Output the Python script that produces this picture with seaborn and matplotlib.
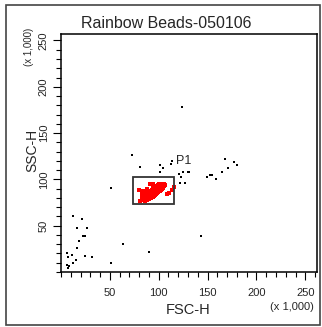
import matplotlib
matplotlib.use("Agg")
import matplotlib.pyplot as plt
import matplotlib.patches as mpatches
from matplotlib.ticker import MultipleLocator
import pandas as pd
import seaborn as sns

# --- data (FSC-H / SSC-H, x 1,000) ---
# scattered events outside the gate
other_fsc = [123.5, 72.4, 80.6, 101, 104, 101, 113, 114, 121, 124.5, 130, 131, 123, 121.4, 126.5,
             51, 149, 152, 155, 159, 165, 168, 171, 177, 180, 12, 22, 16.5, 26.5,
             22.5, 24.5, 18, 16, 6, 11, 7.5, 24.5, 31.5, 15, 12.5, 6, 8, 7,
             51, 63, 90, 143, 117]
other_ssc = [177.7, 126.6, 113.8, 116, 112.8, 108.5, 117, 120, 106, 108.5, 108.5, 108.5, 103, 95.7, 95.7,
             90.4, 103, 105, 105, 100, 108.5, 122, 112, 119, 116, 60.6, 57.4, 48, 47,
             39.4, 39.4, 33, 25.5, 20, 18, 16, 17, 16, 12.8, 9.6, 7.4, 6, 4.3,
             9.6, 29.8, 22, 39.4, 92.5]

# P1 gated population (dense core + stragglers)
p1_fsc = [85, 85,
          86, 86, 86,
          87, 87, 87,
          88, 88, 88, 88,
          89, 89, 89,
          90, 90, 90, 90,
          91, 91, 91, 91,
          92, 92, 92, 92,
          93, 93, 93, 93,
          94, 94, 94, 94, 94,
          95, 95, 95, 95,
          96, 96, 96, 96,
          97, 97, 97, 97,
          98, 98, 98, 98,
          99, 99, 99, 99,
          100, 100, 100, 100,
          101, 101, 101,
          102, 102, 102,
          103, 103, 103,
          104, 104,
          105, 105,
          106,
          79.6, 82.6, 80.6, 91, 94, 108, 111, 114, 116, 84, 88, 83]
p1_ssc = [78, 80,
          77, 79.5, 82,
          78, 80.5, 83,
          77.5, 80, 82.5, 85,
          79, 81.5, 84,
          78.5, 81, 83.5, 86,
          80, 82.5, 85, 87.5,
          79.5, 82, 84.5, 87,
          81, 83.5, 86, 88.5,
          81, 83.5, 86, 88.5, 91,
          82.5, 85, 87.5, 90,
          83, 85.5, 88, 90.5,
          84, 86.5, 89, 91.5,
          85, 87.5, 90, 92.5,
          86, 88.5, 91, 93.5,
          87, 89.5, 92, 94.5,
          88, 90.5, 93,
          89, 91.5, 94,
          90, 92.5, 95,
          91, 93.5,
          92.5, 95,
          94,
          89, 80, 76.6, 95, 95, 84, 85, 89, 91.5, 87, 90, 84]

gate_x = [73.5, 116]
gate_y = [73.4, 103]

title = "Rainbow Beads-050106"
tick_vals = [50, 100, 150, 200, 250]

other = pd.DataFrame({"FSC-H": other_fsc, "SSC-H": other_ssc})
p1 = pd.DataFrame({"FSC-H": p1_fsc, "SSC-H": p1_ssc})

sns.set_style("white")
plt.rcParams["font.family"] = ["Liberation Sans", "DejaVu Sans"]
narrow = ["Liberation Sans Narrow", "Liberation Sans", "DejaVu Sans"]

fig = plt.figure(figsize=(3.22, 3.27), dpi=100)
ax = fig.add_axes([61 / 322, 55 / 327, 256 / 322, 238 / 327])

sns.scatterplot(data=other, x="FSC-H", y="SSC-H", ax=ax, color="black",
                marker="s", s=1.5, linewidth=0)
sns.scatterplot(data=p1, x="FSC-H", y="SSC-H", ax=ax, color="red",
                marker="s", s=5, linewidth=0)

ax.add_patch(mpatches.Rectangle((gate_x[0], gate_y[0]), gate_x[1] - gate_x[0], gate_y[1] - gate_y[0],
                                fill=False, edgecolor="#333333", linewidth=1.3))
ax.text(117.3, 117, "P1", fontsize=9, ha="left", va="baseline")

ax.set_xlim(0, 262)
ax.set_ylim(0, 257)
ax.xaxis.set_minor_locator(MultipleLocator(10))
ax.yaxis.set_minor_locator(MultipleLocator(10))
ax.tick_params(which="major", direction="out", length=5.8, width=0.8, color="black",
               bottom=True, left=True, labelsize=8)
ax.tick_params(which="minor", direction="out", length=3.6, width=0.8, color="black",
               bottom=True, left=True)
ax.tick_params(axis="x", which="major", pad=6)
ax.tick_params(axis="y", which="major", pad=3)
ax.set_xticks(tick_vals)
ax.set_xticklabels([str(v) for v in tick_vals], family=narrow)
ax.set_yticks(tick_vals)
ax.set_yticklabels([str(v) for v in tick_vals], family=narrow, rotation=90, va="center")

for sp in ax.spines.values():
    sp.set_visible(True)
    sp.set_color("black")
    sp.set_linewidth(1.1)

ax.set_xlabel("")
ax.set_ylabel("")
fig.text(188 / 322, 1 - 310 / 327, "FSC-H", fontsize=10.5, ha="center", va="center")
fig.text(32 / 322, 1 - 150 / 327, "SSC-H", fontsize=10, ha="center", va="center", rotation=90)
fig.text(292 / 322, 1 - 307 / 327, "(x 1,000)", fontsize=8, ha="center", va="center")
fig.text(29.5 / 322, 1 - 47 / 327, "(x 1,000)", fontsize=7, ha="center", va="center",
         rotation=90, family=narrow)
fig.text(166 / 322, 1 - 24 / 327, title, fontsize=11.5, ha="center", va="center")

fig.add_artist(mpatches.Rectangle((6 / 322, 2 / 327), 314 / 322, 320 / 327, transform=fig.transFigure,
                                  fill=False, edgecolor="#444444", linewidth=1.2))

fig.savefig("out.png", dpi=100)
